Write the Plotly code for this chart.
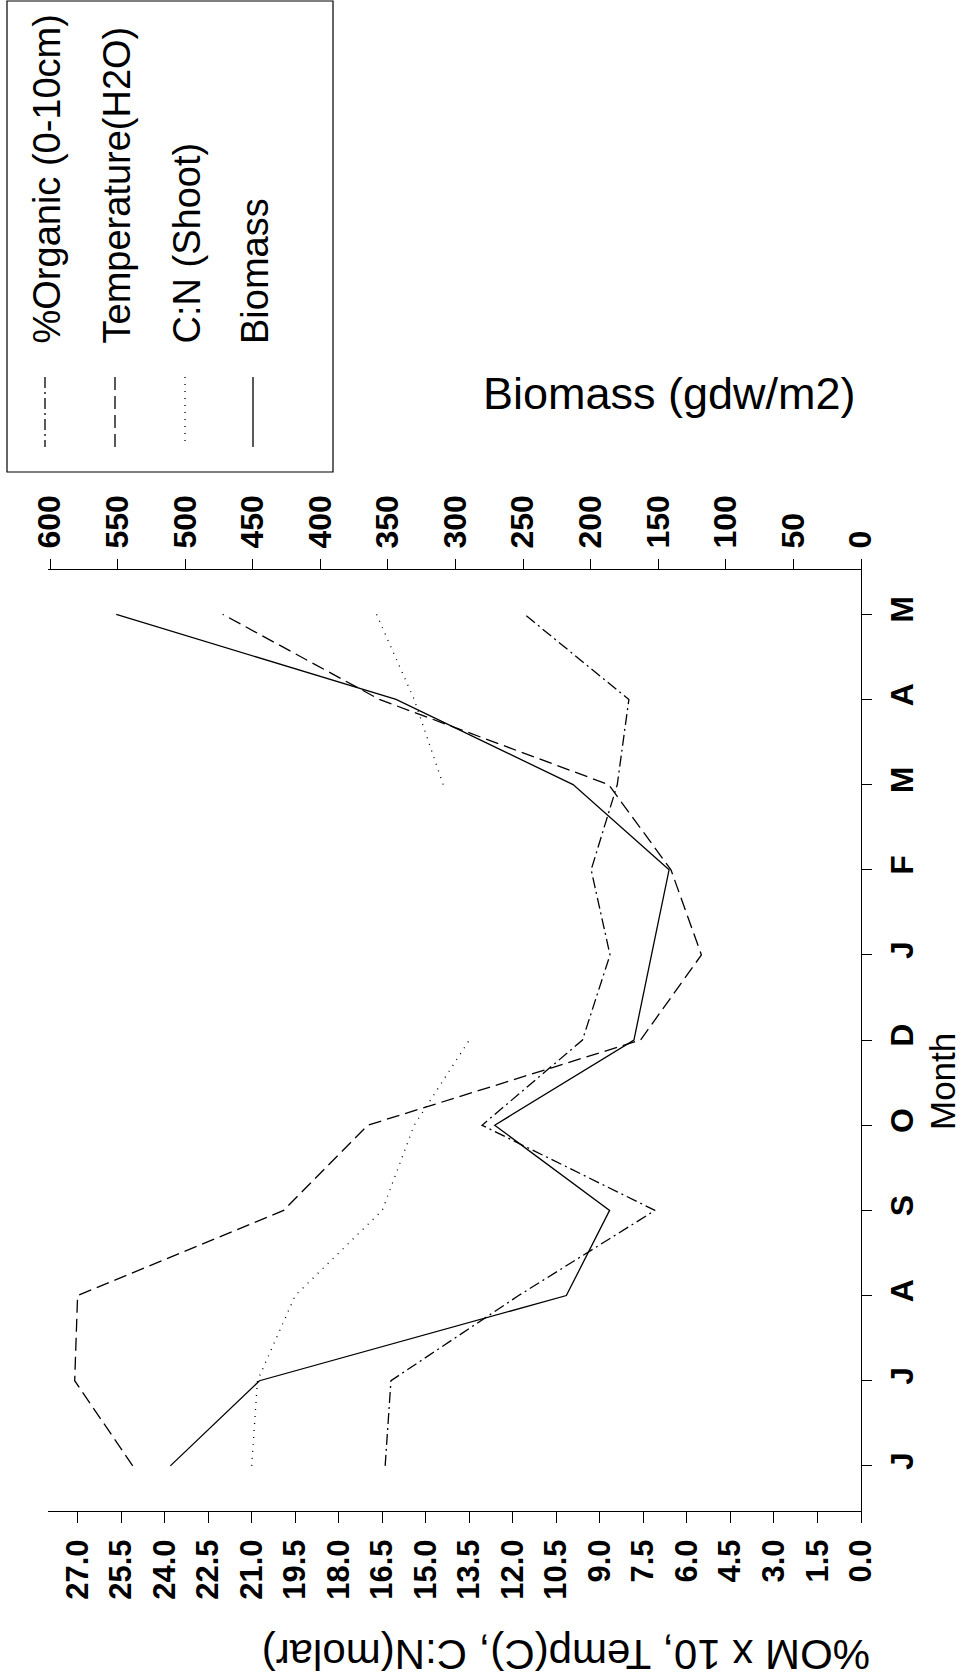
import plotly.graph_objects as go

# ---- data ----
months = ["J", "J", "A", "S", "O", "D", "J", "F", "M", "A", "M"]
month_idx = list(range(len(months)))

organic = [16.4, 16.2, 11.8, 7.1, 13.06, 9.6, 8.65, 9.3, 8.4, 8.0, 11.6]        # %OM x 10
temperature = [25.1, 27.1, 27.0, 19.9, 17.0, 7.6, 5.5, 6.55, 8.7, 16.6, 22.0]   # Temp (C)
cn_shoot = [21.0, 20.8, 19.5, 16.5, 15.4, 13.5, None, None, 14.4, 15.4, 16.7]   # C:N molar
biomass = [511, 445, 218, 186, 271, 168, 155, 142, 213, 344, 551]               # gdw/m2

left_ticks = [i * 1.5 for i in range(19)]
left_ticktext = [f"{v:.1f}" for v in left_ticks]
bio_ticks = list(range(0, 601, 50))
bio_ticktext = [str(v) for v in bio_ticks]

series_names = ["%Organic (0-10cm)", "Temperature(H2O)", "C:N (Shoot)", "Biomass"]

# ---- geometry (pixels of the 961x1678 page) ----
W, H = 961, 1678
PL, PR, PT, PB = 48, 861, 570, 1511
FONT = "Arial, Liberation Sans, sans-serif"

def px(x):
    return (x - PL) / (PR - PL)

def py(y):
    return (PB - y) / (PB - PT)

dash_org = "11px,4px,2px,4px"
dash_tmp = "13px,6px"
dash_cn = "1px,6px"
LW = 1.3

fig = go.Figure()
fig.add_trace(go.Scatter(x=organic, y=month_idx, mode="lines", name=series_names[0],
                         line=dict(color="black", width=LW, dash=dash_org), xaxis="x", yaxis="y"))
fig.add_trace(go.Scatter(x=temperature, y=month_idx, mode="lines", name=series_names[1],
                         line=dict(color="black", width=LW, dash=dash_tmp), xaxis="x", yaxis="y"))
fig.add_trace(go.Scatter(x=cn_shoot, y=month_idx, mode="lines", name=series_names[2],
                         line=dict(color="black", width=LW, dash=dash_cn), xaxis="x", yaxis="y",
                         connectgaps=False))
fig.add_trace(go.Scatter(x=biomass, y=month_idx, mode="lines", name=series_names[3],
                         line=dict(color="black", width=LW), xaxis="x2", yaxis="y"))

tick_font = dict(family=FONT, size=31, color="black", weight="bold")

fig.update_layout(
    width=W, height=H,
    margin=dict(l=PL, r=W - PR, t=PT, b=H - PB, pad=0),
    paper_bgcolor="white", plot_bgcolor="white",
    showlegend=False,
    xaxis=dict(range=[28.02, 0], tickmode="array", tickvals=left_ticks, ticktext=left_ticktext,
               tickangle=-90, ticks="outside", ticklen=11, tickcolor="black", tickwidth=1,
               showline=True, linecolor="black", linewidth=1, showgrid=False, zeroline=False,
               tickfont=tick_font, automargin=False, ticklabelstandoff=4),
    xaxis2=dict(range=[601.5, 0], overlaying="x", side="top", anchor="y", tickmode="array",
                tickvals=bio_ticks, ticktext=bio_ticktext, tickangle=-90, ticks="outside",
                ticklen=10, tickcolor="black", tickwidth=1, showline=True, linecolor="black",
                linewidth=1, showgrid=False, zeroline=False,
                tickfont=dict(family=FONT, size=32, color="black", weight="bold"),
                automargin=False, ticklabelstandoff=4),
    yaxis=dict(range=[-0.53, 10.52], side="right", tickmode="array", tickvals=month_idx,
               ticktext=months, tickangle=-90, ticks="outside", ticklen=10, tickcolor="black",
               tickwidth=1, showline=True, linecolor="black", linewidth=1, showgrid=False,
               zeroline=False, tickfont=dict(family=FONT, size=32, color="black", weight="bold"),
               automargin=False, ticklabelstandoff=3),
)

annotations = [
    dict(text="Biomass (gdw/m2)", x=px(669), y=py(393), xref="paper", yref="paper",
         showarrow=False, font=dict(family=FONT, size=45, color="black"),
         xanchor="center", yanchor="middle"),
    dict(text="%OM x 10, Temp(C), C:N(molar)", x=px(566), y=py(1655), xref="paper", yref="paper",
         showarrow=False, textangle=180, font=dict(family=FONT, size=42, color="black"),
         xanchor="center", yanchor="middle"),
    dict(text="Month", x=px(942), y=py(1082), xref="paper", yref="paper",
         showarrow=False, textangle=-90, font=dict(family=FONT, size=35, color="black"),
         xanchor="center", yanchor="middle"),
]

shapes = [
    dict(type="rect", xref="paper", yref="paper", x0=px(7), x1=px(333), y0=py(1), y1=py(472),
         line=dict(color="black", width=1.2), fillcolor="white", layer="above"),
]

leg_cols = [47, 117, 187, 255]
leg_dash = [dash_org, dash_tmp, dash_cn, "solid"]
for cx, name, dsh in zip(leg_cols, series_names, leg_dash):
    annotations.append(dict(text=name, x=px(cx), y=py(346), xref="paper", yref="paper",
                            showarrow=False, textangle=-90,
                            font=dict(family=FONT, size=38, color="black"),
                            xanchor="center", yanchor="bottom"))
    shapes.append(dict(type="line", xref="paper", yref="paper", x0=px(cx - 2), x1=px(cx - 2),
                       y0=py(377), y1=py(447), line=dict(color="black", width=LW, dash=dsh)))

fig.update_layout(annotations=annotations, shapes=shapes)

fig.write_html("out.html")
